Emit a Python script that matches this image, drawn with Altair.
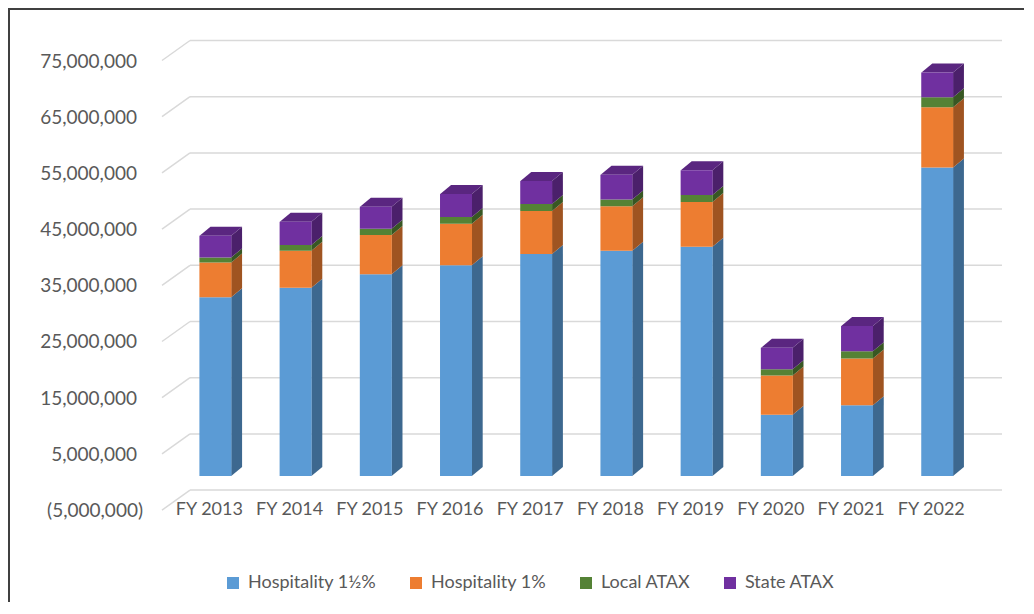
import altair as alt
import pandas as pd

# ---------------- data ----------------
years = ["FY 2013", "FY 2014", "FY 2015", "FY 2016", "FY 2017",
         "FY 2018", "FY 2019", "FY 2020", "FY 2021", "FY 2022"]
series = ["Hospitality 1½%", "Hospitality 1%", "Local ATAX", "State ATAX"]

hosp_1_5 = [31_800_000, 33_500_000, 35_900_000, 37_500_000, 39_500_000,
            40_100_000, 40_800_000, 10_900_000, 12_600_000, 54_900_000]
hosp_1 = [6_200_000, 6_600_000, 7_000_000, 7_400_000, 7_650_000,
          7_900_000, 7_950_000, 7_000_000, 8_300_000, 10_700_000]
local_atax = [900_000, 1_000_000, 1_100_000, 1_200_000, 1_250_000,
              1_200_000, 1_250_000, 1_100_000, 1_300_000, 1_800_000]
state_atax = [3_850_000, 4_150_000, 3_900_000, 4_100_000, 4_100_000,
              4_400_000, 4_400_000, 3_800_000, 4_500_000, 4_400_000]

tick_values = [-5_000_000, 5_000_000, 15_000_000, 25_000_000, 35_000_000,
               45_000_000, 55_000_000, 65_000_000, 75_000_000]
tick_labels = ["(5,000,000)", "5,000,000", "15,000,000", "25,000,000", "35,000,000",
               "45,000,000", "55,000,000", "65,000,000", "75,000,000"]

front_colors = ["#5B9BD5", "#ED7D31", "#548235", "#7030A0"]
side_colors = ["#3D688F", "#9F5421", "#385723", "#4B206B"]
top_color = "#5A2680"

# ---------------- layout constants ----------------
W, H = 840, 476
X_DOM = [-0.1035, 10.245]
Y_DOM = [-6_406_000, 78_292_000]
px_x = W / (X_DOM[1] - X_DOM[0])
px_y = H / (Y_DOM[1] - Y_DOM[0])
hw = 16 / px_x          # half front width
dxu = 11 / px_x         # 3D depth, horizontal
dyv = 9 / px_y          # 3D depth, vertical
FONT = "Lato"
TXT = "#595959"
GRID = "#D9D9D9"

xs = alt.Scale(domain=X_DOM, nice=False, zero=False)
ys = alt.Scale(domain=Y_DOM, nice=False, zero=False)

# ---------------- build tables ----------------
values = [hosp_1_5, hosp_1, local_atax, state_atax]
front_rows, side_rows, top_rows = [], [], []
for i, yr in enumerate(years):
    xc = i + 0.5
    base = 0
    for s, name in enumerate(series):
        v = values[s][i]
        y0, y1 = base, base + v
        front_rows.append(dict(year=yr, series=name, xc=xc, y0=y0, y1=y1, order=s))
        sid = f"{i}-{s}"
        side_rows.append(dict(id=sid, x=xc + hw, ya=y0, yb=y1, fill=side_colors[s]))
        side_rows.append(dict(id=sid, x=xc + hw + dxu, ya=y0 + dyv, yb=y1 + dyv, fill=side_colors[s]))
        base = y1
    top_rows.append(dict(id=str(i), y=base, xa=xc - hw, xb=xc + hw))
    top_rows.append(dict(id=str(i), y=base + dyv, xa=xc - hw + dxu, xb=xc + hw + dxu))

front_df = pd.DataFrame(front_rows)
side_df = pd.DataFrame(side_rows)
top_df = pd.DataFrame(top_rows)
ticks_df = pd.DataFrame({"v": tick_values, "label": tick_labels})
years_df = pd.DataFrame({"year": years, "xc": [i + 0.5 for i in range(len(years))]})

# ---------------- layers ----------------
grid = alt.Chart(ticks_df).mark_rule(color=GRID, strokeWidth=1.5, yOffset=-14).encode(
    x=alt.value(28), x2=alt.value(W),
    y=alt.Y("v:Q", scale=ys, axis=None),
)
diag = alt.Chart(ticks_df).mark_rule(color=GRID, strokeWidth=1.5, yOffset=6, y2Offset=-14).encode(
    x=alt.value(0), x2=alt.value(28),
    y=alt.Y("v:Q", scale=ys, axis=None), y2="v:Q",
)
ylab_pos = alt.Chart(ticks_df).transform_filter("datum.v > 0").mark_text(
    align="right", baseline="middle", font=FONT, fontSize=19, color=TXT, dy=7
).encode(x=alt.value(-25), y=alt.Y("v:Q", scale=ys, axis=None), text="label:N")
ylab_neg = alt.Chart(ticks_df).transform_filter("datum.v < 0").mark_text(
    align="right", baseline="middle", font=FONT, fontSize=19, color=TXT, dy=7
).encode(x=alt.value(-19), y=alt.Y("v:Q", scale=ys, axis=None), text="label:N")

xlab = alt.Chart(years_df).mark_text(
    align="center", baseline="middle", font=FONT, fontSize=18, color=TXT, dx=-6
).encode(x=alt.X("xc:Q", scale=xs, axis=None), y=alt.value(474), text="year:N")

front = alt.Chart(front_df).mark_bar(size=32).encode(
    x=alt.X("xc:Q", scale=xs, axis=None),
    y=alt.Y("y0:Q", scale=ys, axis=None, stack=None),
    y2="y1:Q",
    color=alt.Color(
        "series:N",
        scale=alt.Scale(domain=series, range=front_colors),
        sort=series,
        legend=alt.Legend(
            orient="none", legendX=62, legendY=538, direction="horizontal",
            title=None, symbolType="square", symbolSize=144, symbolStrokeWidth=0,
            labelFont=FONT, labelFontSize=18, labelColor=TXT,
            columnPadding=30, labelOffset=6,
        ),
    ),
)

side = alt.Chart(side_df).mark_area(interpolate="linear").encode(
    x=alt.X("x:Q", scale=xs, axis=None),
    y=alt.Y("ya:Q", scale=ys, axis=None, stack=None),
    y2="yb:Q",
    detail="id:N",
    fill=alt.Fill("fill:N", scale=None),
)

top = alt.Chart(top_df).mark_area(orient="horizontal", color=top_color).encode(
    y=alt.Y("y:Q", scale=ys, axis=None),
    x=alt.X("xa:Q", scale=xs, axis=None, stack=None),
    x2="xb:Q",
    detail="id:N",
)

frame_left = alt.Chart(ticks_df).mark_rule(color="#404040", strokeWidth=2).encode(
    x=alt.value(-153), y=alt.value(-28), y2=alt.value(H + 90)
)
frame_top = alt.Chart(ticks_df).mark_rule(color="#404040", strokeWidth=2).encode(
    y=alt.value(-27), x=alt.value(-154), x2=alt.value(W + 22)
)

chart = alt.layer(
    grid, diag, ylab_pos, ylab_neg, xlab, side, top, front, frame_left, frame_top
).properties(
    width=W, height=H,
    autosize=alt.AutoSizeParams(type="none"),
    padding={"left": 154, "top": 28, "right": 22, "bottom": 90},
    background="white",
).configure_view(stroke=None)

chart.save("out.html", embed_options={"renderer": "svg", "actions": False})
